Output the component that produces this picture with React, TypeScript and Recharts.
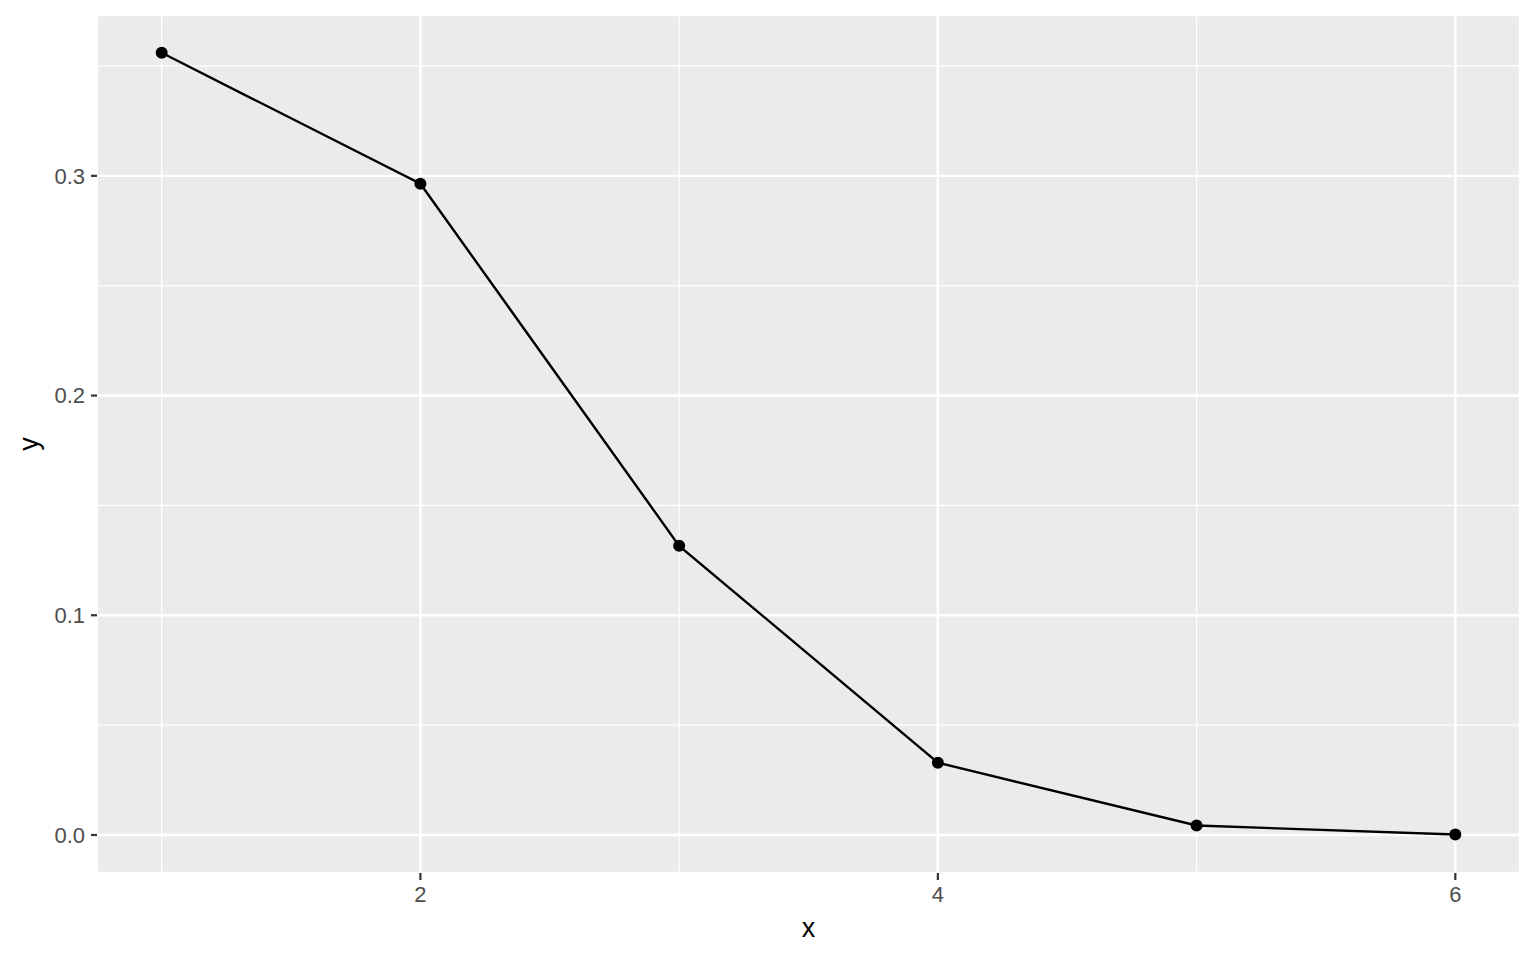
import { LineChart, Line, XAxis, YAxis, CartesianGrid, ReferenceLine } from 'recharts';

const xValues = [1, 2, 3, 4, 5, 6];
const yValues = [0.356, 0.2964, 0.1316, 0.0329, 0.0043, 0.0002];

const xTicks = [2, 4, 6];
const yTicks = [0, 0.1, 0.2, 0.3];
const xMinor = [1, 3, 5];
const yMinor = [0.05, 0.15, 0.25, 0.35];

const data = xValues.map((x, i) => ({ x, y: yValues[i] }));

const font = '"Liberation Sans", Arial, sans-serif';

export default function App() {
  return (
    <div style={{ position: 'absolute', left: 0, top: 0, width: 1536, height: 960, background: '#fff', fontFamily: font }}>
      <LineChart width={1536} height={960} data={data} margin={{ top: 15, right: 16, left: 0, bottom: 0 }}>
        <CartesianGrid fill="#EBEBEB" stroke="#fff" strokeWidth={2.4} />
        {xMinor.map((v) => (
          <ReferenceLine key={'vx' + v} x={v} stroke="#fff" strokeWidth={1.2} />
        ))}
        {yMinor.map((v) => (
          <ReferenceLine key={'hy' + v} y={v} stroke="#fff" strokeWidth={1.2} />
        ))}
        <XAxis
          dataKey="x"
          type="number"
          domain={[0.75, 6.25]}
          ticks={xTicks}
          allowDataOverflow
          height={87}
          axisLine={false}
          tickLine={{ stroke: '#333333', strokeWidth: 2.2 }}
          tickSize={7}
          tickMargin={6}
          tick={{ fill: '#4D4D4D', fontSize: 22, fontFamily: font }}
          label={{ value: 'x', position: 'insideBottom', offset: 23, style: { fill: '#000', fontSize: 27, fontFamily: font } }}
        />
        <YAxis
          type="number"
          domain={[-0.0173, 0.3732]}
          ticks={yTicks}
          allowDataOverflow
          width={97}
          axisLine={false}
          tickLine={{ stroke: '#333333', strokeWidth: 2.2 }}
          tickSize={6}
          tickMargin={6}
          tickFormatter={(v: number) => v.toFixed(1)}
          tick={{ fill: '#4D4D4D', fontSize: 22, fontFamily: font }}
          label={{ value: 'y', angle: -90, position: 'insideLeft', offset: 28, style: { fill: '#000', fontSize: 27, fontFamily: font, textAnchor: 'middle' } }}
        />
        <Line
          type="linear"
          dataKey="y"
          stroke="#000"
          strokeWidth={2.4}
          dot={{ r: 6, fill: '#000', stroke: 'none' }}
          activeDot={false}
          isAnimationActive={false}
        />
      </LineChart>
    </div>
  );
}
